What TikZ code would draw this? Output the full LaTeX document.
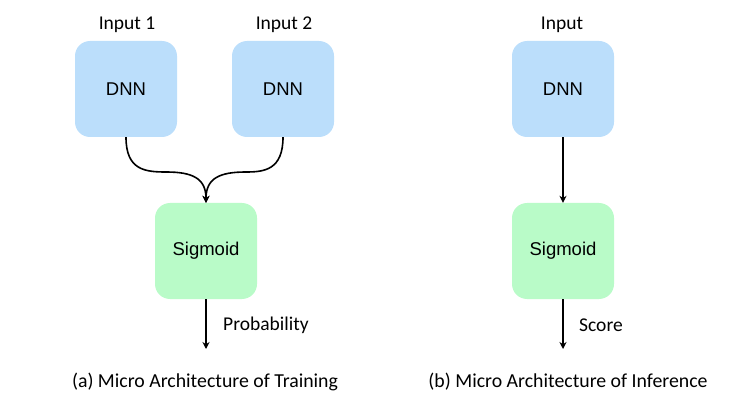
\documentclass[tikz,border=0pt]{standalone}
\usepackage{fontspec}
\setmainfont{Carlito}
\newfontfamily\arialf{Liberation Sans}
\usetikzlibrary{arrows.meta}
\definecolor{dnnblue}{HTML}{BBDEFB}
\definecolor{sigreen}{HTML}{B9FBC8}
\begin{document}
\begin{tikzpicture}[x=1pt,y=-1pt,
  box/.style={rounded corners=15pt, minimum width=102pt, minimum height=96pt, inner sep=0pt, draw=none, font=\arialf\fontsize{18.5}{20}\selectfont},
  dnnbox/.style={box, fill=dnnblue},
  sigbox/.style={box, fill=sigreen},
  lbl/.style={font=\fontsize{19.5}{21}\selectfont, inner sep=0pt},
  captionlbl/.style={font=\fontsize{19.8}{22}\selectfont, inner sep=0pt},
  conn/.style={line width=1.6pt, -{Stealth[length=7pt,width=7pt]}}
]
\useasboundingbox (0,0) rectangle (737,409);
% left part
\node[dnnbox] (d1) at (126,89) {DNN};
\node[dnnbox] (d2) at (283,89) {DNN};
\node[sigbox] (s1) at (206,251) {Sigmoid};
\node[lbl] (i1) at (127,25) {Input 1};
\node[lbl] (i2) at (284,25) {Input 2};
\coordinate (o1) at (206,349);
\node[lbl, anchor=west] (p1) at (223,325) {Probability};
\node[captionlbl] (ca) at (205,382) {(a) Micro Architecture of Training};
\draw[conn] (d1.south) .. controls (126,170) and (145,172) .. (166,172)
            .. controls (192,172) and (206,178) .. (s1.north);
\draw[conn] (d2.south) .. controls (283,170) and (264,172) .. (246,172)
            .. controls (220,172) and (206,178) .. (s1.north);
\draw[conn] (s1.south) -- (o1);
% right part
\node[dnnbox] (d3) at (563,89) {DNN};
\node[sigbox] (s2) at (563,251) {Sigmoid};
\node[lbl] (i3) at (562,25) {Input};
\coordinate (o2) at (563,349);
\node[lbl, anchor=west] (p2) at (579,325) {Score};
\node[captionlbl] (cb) at (568,382) {(b) Micro Architecture of Inference};
\draw[conn] (d3.south) -- (s2.north);
\draw[conn] (s2.south) -- (o2);
\end{tikzpicture}
\end{document}
